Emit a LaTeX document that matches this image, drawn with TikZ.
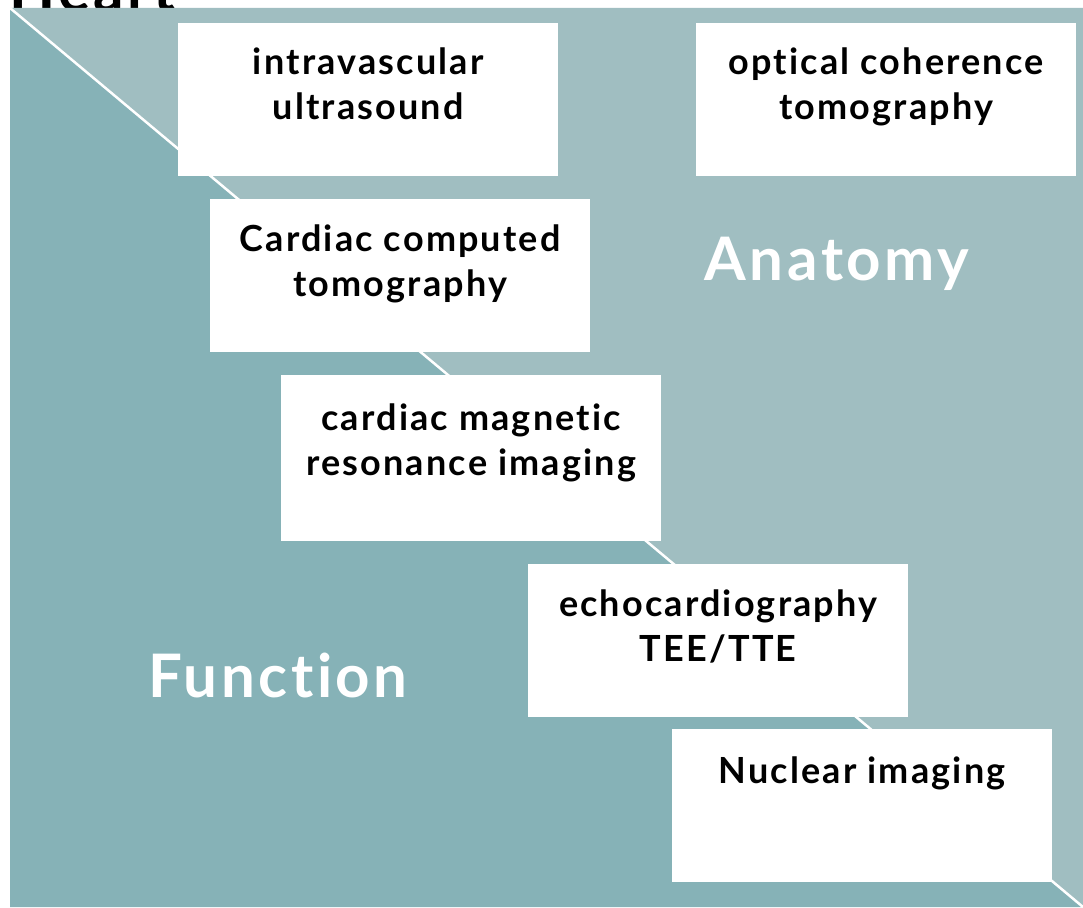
\documentclass[tikz,border=0pt]{standalone}
\usepackage{fontspec}
\setmainfont{Lato}
\newfontfamily\cardfont[LetterSpace=6,RawFeature={-liga;-dlig}]{Lato}
\usetikzlibrary{positioning}
\definecolor{lightteal}{RGB}{160,190,193}
\definecolor{darkteal}{RGB}{134,178,183}
\tikzset{
  card/.style={fill=white,anchor=north west,inner sep=0,minimum width=380pt,minimum height=153pt},
  cardtxt/.style={anchor=north,inner sep=0,align=center,text=black,font=\cardfont\bfseries\fontsize{36}{45}\selectfont},
  bigtxt/.style={inner sep=0,text=white,font=\cardfont\bfseries\fontsize{60}{64}\selectfont}
}

\begin{document}
\begin{tikzpicture}[x=1pt,y=-1pt]
\useasboundingbox (0,0) rectangle (1083,907);
\fill[white] (0,0) rectangle (1083,907);

\node[anchor=base west,inner sep=0,text=black,font=\cardfont\bfseries\fontsize{60}{64}\selectfont] (heart) at (9,12) {Heart};

\fill[color=lightteal] (10,8) -- (1083,8) -- (1083,907) -- cycle;
\fill[color=darkteal] (10,8) -- (10,907) -- (1083,907) -- cycle;
\draw[color=white,line width=2.5pt] (10,8) -- (1083,907);

\node[card] (ivus) at (178,23) {};
\node[card] (oct) at (696,23) {};
\node[card] (cct) at (210,199) {};
\node[card,minimum height=166pt] (cmr) at (281,375) {};
\node[card] (echo) at (528,564) {};
\node[card] (nuc) at (672,729) {};

\node[cardtxt,below=25pt of ivus.north] (ivustxt) {intravascular\\ultrasound};
\node[cardtxt,below=25pt of oct.north] (octtxt) {optical coherence\\tomography};
\node[cardtxt,below=26pt of cct.north] (ccttxt) {Cardiac computed\\tomography};
\node[cardtxt,below=29pt of cmr.north] (cmrtxt) {cardiac magnetic\\resonance imaging};
\node[cardtxt,below=26pt of echo.north] (echotxt) {echocardiography\\TEE/TTE};
\node[cardtxt,below=28pt of nuc.north] (nuctxt) {Nuclear imaging};

\node[bigtxt] (anatomy) at (837,264) {Anatomy};
\node[bigtxt] (function) at (278,675) {Function};

\end{tikzpicture}
\end{document}
